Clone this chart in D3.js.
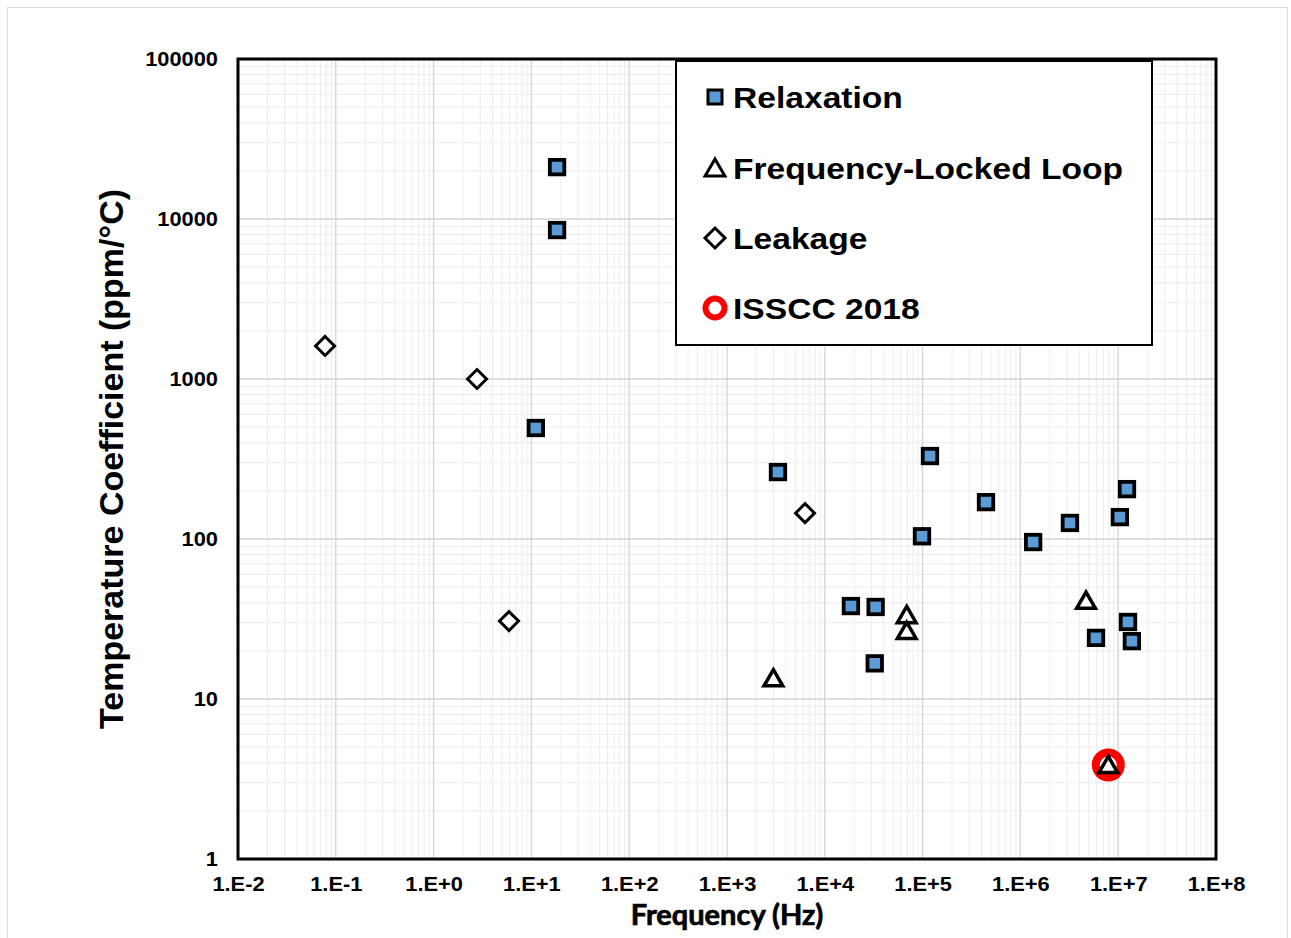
<!DOCTYPE html>
<html>
<head>
<meta charset="utf-8">
<script src="https://cdnjs.cloudflare.com/ajax/libs/d3/7.8.5/d3.min.js"></script>
<style>
  body { margin: 0; background: #fff; }
  svg text { font-family: "Liberation Sans", Arial, sans-serif; font-weight: bold; fill: #000; }
</style>
</head>
<body>
<svg id="chart" width="1291" height="938"></svg>
<script>
// data (Hz, ppm/°C)
const relaxFreq = [18.3, 18.3, 11.1, 3320, 119000, 98600, 445000, 1.35e6, 3.21e6, 1.23e7, 1.04e7, 1.26e7, 5.93e6, 1.38e7, 18500, 33100, 32400];
const relaxTc = [21100, 8530, 494, 262, 330, 104, 170, 95.7, 126, 205, 137, 30.3, 24.1, 23.0, 38.1, 37.6, 16.7];

const fllFreq = [2980, 68800, 68800, 4.69e6, 7.92e6];
const fllTc = [13.5, 33.5, 26.7, 41.2, 3.87];

const leakFreq = [0.0777, 2.78, 6280, 5.90];
const leakTc = [1608, 1000, 145, 30.7];

const isscc = [{ f: 7.92e6, tc: 3.87 }];

const xTicks = [1e-2, 1e-1, 1e0, 1e1, 1e2, 1e3, 1e4, 1e5, 1e6, 1e7, 1e8];
const xTickLabels = ["1.E-2", "1.E-1", "1.E+0", "1.E+1", "1.E+2", "1.E+3", "1.E+4", "1.E+5", "1.E+6", "1.E+7", "1.E+8"];
const yTicks = [1, 10, 100, 1000, 10000, 100000];

const legendNames = ["Relaxation", "Frequency-Locked Loop", "Leakage", "ISSCC 2018"];

const svg = d3.select("#chart");
const pLeft = 238, pRight = 1216, pTop = 59, pBottom = 859;
const stretch = 1.12; // the source text is a bit wider than Arial

const x = d3.scaleLog().domain([1e-2, 1e8]).range([pLeft, pRight]);
const y = d3.scaleLog().domain([1, 1e5]).range([pBottom, pTop]);

// outer chart frame
svg.append("rect")
  .attr("x", 7.5).attr("y", 7.5).attr("width", 1280).attr("height", 950)
  .attr("fill", "#fff").attr("stroke", "#d9d9d9").attr("stroke-width", 1);

// minor grid
const minorX = [], minorY = [];
for (let e = -2; e < 8; e++) for (let m = 2; m <= 9; m++) minorX.push(m * Math.pow(10, e));
for (let e = 0; e < 5; e++) for (let m = 2; m <= 9; m++) minorY.push(m * Math.pow(10, e));

const grid = svg.append("g");
grid.selectAll(".mx").data(minorX).enter().append("line")
  .attr("x1", d => x(d)).attr("x2", d => x(d)).attr("y1", pTop).attr("y2", pBottom)
  .attr("stroke", "#ededed").attr("stroke-width", 1);
grid.selectAll(".my").data(minorY).enter().append("line")
  .attr("y1", d => y(d)).attr("y2", d => y(d)).attr("x1", pLeft).attr("x2", pRight)
  .attr("stroke", "#ededed").attr("stroke-width", 1);
grid.selectAll(".Mx").data(xTicks).enter().append("line")
  .attr("x1", d => x(d)).attr("x2", d => x(d)).attr("y1", pTop).attr("y2", pBottom)
  .attr("stroke", "#d4d4d4").attr("stroke-width", 1.3);
grid.selectAll(".My").data(yTicks).enter().append("line")
  .attr("y1", d => y(d)).attr("y2", d => y(d)).attr("x1", pLeft).attr("x2", pRight)
  .attr("stroke", "#d4d4d4").attr("stroke-width", 1.3);

// axes (labels only, frame drawn below)
const xAxis = d3.axisBottom(x).tickValues(xTicks).tickSize(0).tickPadding(18)
  .tickFormat((d, i) => xTickLabels[i]);
const gx = svg.append("g").attr("transform", `translate(0,${pBottom})`).call(xAxis);
gx.select(".domain").remove();
gx.selectAll("text")
  .style("font-size", "19.5px").style("font-family", "Liberation Sans, Arial, sans-serif").style("font-weight", "bold")
  .attr("transform", `scale(${stretch},1)`);

const yAxis = d3.axisLeft(y).tickValues(yTicks).tickSize(0).tickPadding(19)
  .tickFormat(d3.format("d"));
const gy = svg.append("g").attr("transform", `translate(${pLeft},0)`).call(yAxis);
gy.select(".domain").remove();
gy.selectAll("text")
  .style("font-size", "19.5px").style("font-family", "Liberation Sans, Arial, sans-serif").style("font-weight", "bold")
  .attr("x", 0).attr("transform", `translate(-20,0) scale(${stretch},1)`);

// plot frame
svg.append("rect")
  .attr("x", pLeft).attr("y", pTop).attr("width", pRight - pLeft).attr("height", pBottom - pTop)
  .attr("fill", "none").attr("stroke", "#000").attr("stroke-width", 3);

// axis titles
svg.append("text").attr("x", 727).attr("y", 925).attr("text-anchor", "middle")
  .style("font-family", "Lato, 'Open Sans', sans-serif").style("font-size", "29px")
  .attr("stroke", "#000").attr("stroke-width", 0.7)
  .text("Frequency (Hz)");
svg.append("text").attr("transform", "translate(123,459) rotate(-90)").attr("text-anchor", "middle")
  .style("font-size", "34px").text("Temperature Coefficient (ppm/°C)");

// marker shapes
const sqSize = 14.5, triSize = 17, diaSize = 19;
const triPath = s => `M0,${-s * 0.5}L${s * 0.55},${s * 0.45}L${-s * 0.55},${s * 0.45}Z`;
const diaPath = s => `M0,${-s / 2}L${s / 2},0L0,${s / 2}L${-s / 2},0Z`;

const plot = svg.append("g");

plot.selectAll(".relax").data(d3.range(relaxFreq.length)).enter().append("rect")
  .attr("x", i => x(relaxFreq[i]) - sqSize / 2).attr("y", i => y(relaxTc[i]) - sqSize / 2)
  .attr("width", sqSize).attr("height", sqSize)
  .attr("fill", "#5b9bd5").attr("stroke", "#000").attr("stroke-width", 3.8);

plot.selectAll(".leak").data(d3.range(leakFreq.length)).enter().append("path")
  .attr("d", diaPath(diaSize))
  .attr("transform", i => `translate(${x(leakFreq[i])},${y(leakTc[i])})`)
  .attr("fill", "#fff").attr("stroke", "#000").attr("stroke-width", 3);

plot.selectAll(".isscc").data(isscc).enter().append("circle")
  .attr("cx", d => x(d.f)).attr("cy", d => y(d.tc)).attr("r", 12.5)
  .attr("fill", "#fff").attr("stroke", "#ff0000").attr("stroke-width", 8);

plot.selectAll(".fll").data(d3.range(fllFreq.length)).enter().append("path")
  .attr("d", triPath(triSize))
  .attr("transform", i => `translate(${x(fllFreq[i])},${y(fllTc[i])})`)
  .attr("fill", "#fff").attr("stroke", "#000").attr("stroke-width", 3.5);

// legend
const leg = svg.append("g");
leg.append("rect").attr("x", 676).attr("y", 61).attr("width", 476).attr("height", 284)
  .attr("fill", "#fff").attr("stroke", "#000").attr("stroke-width", 2);

const rowY = [97, 168, 238, 308];
const mx = 715;
leg.append("rect").attr("x", mx - 7).attr("y", rowY[0] - 7).attr("width", 14).attr("height", 14)
  .attr("fill", "#5b9bd5").attr("stroke", "#000").attr("stroke-width", 3);
leg.append("path").attr("d", triPath(18)).attr("transform", `translate(${mx},${rowY[1]})`)
  .attr("fill", "#fff").attr("stroke", "#000").attr("stroke-width", 3);
leg.append("path").attr("d", diaPath(20)).attr("transform", `translate(${mx},${rowY[2]})`)
  .attr("fill", "#fff").attr("stroke", "#000").attr("stroke-width", 3);
leg.append("circle").attr("cx", mx).attr("cy", rowY[3]).attr("r", 9.5)
  .attr("fill", "#fff").attr("stroke", "#ff0000").attr("stroke-width", 6);

leg.selectAll(".lt").data(legendNames).enter().append("text")
  .attr("transform", (d, i) => `translate(733,${rowY[i]}) scale(${stretch},1)`)
  .attr("dy", "0.36em")
  .style("font-size", "30px").text(d => d);
</script>
</body>
</html>
